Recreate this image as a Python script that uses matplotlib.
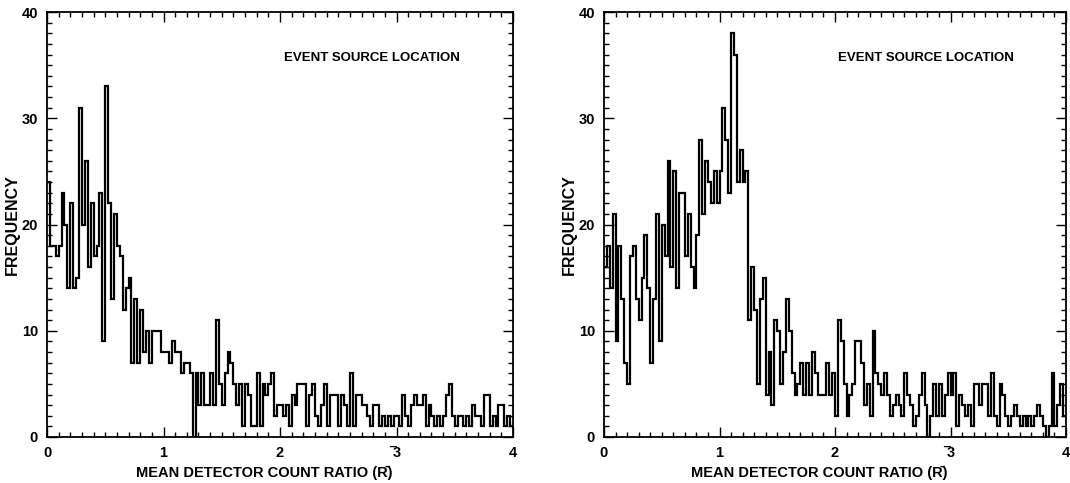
import numpy as np
import matplotlib
matplotlib.use('Agg')
import matplotlib.pyplot as plt
from matplotlib.ticker import MultipleLocator

plt.rcParams['font.family'] = ['Liberation Sans Narrow', 'Liberation Sans', 'DejaVu Sans']
plt.rcParams['font.weight'] = 'bold'

# histogram bin width in units of mean detector count ratio
bin_width = 0.025

# counts per bin, 0 <= R < 4 (160 bins each)
counts_left = [
    24, 18, 18, 17, 18, 23, 20, 14, 22, 14, 15, 31, 20, 26, 16, 22, 17, 18, 23, 9,
    33, 22, 13, 21, 18, 17, 12, 14, 15, 7, 13, 7, 12, 8, 10, 7, 10, 10, 10, 8,
    8, 8, 7, 9, 8, 8, 6, 7, 7, 6, 0, 6, 3, 6, 3, 3, 6, 3, 11, 5,
    3, 6, 8, 7, 5, 3, 5, 1, 5, 4, 1, 1, 6, 1, 5, 4, 5, 6, 2, 3,
    3, 2, 3, 1, 4, 3, 5, 5, 5, 1, 4, 5, 2, 1, 3, 5, 1, 4, 4, 4,
    1, 4, 3, 1, 6, 1, 4, 4, 3, 3, 2, 1, 3, 3, 1, 2, 1, 2, 1, 2,
    2, 1, 4, 2, 1, 3, 4, 3, 3, 4, 1, 3, 2, 1, 2, 1, 2, 4, 5, 2,
    1, 2, 2, 1, 2, 1, 3, 2, 2, 1, 4, 4, 1, 2, 1, 3, 3, 1, 2, 1,
]
counts_right = [
    16, 18, 14, 21, 9, 18, 13, 7, 5, 17, 18, 13, 11, 15, 19, 14, 7, 13, 21, 9,
    20, 17, 26, 16, 25, 14, 23, 23, 17, 21, 16, 14, 19, 28, 21, 26, 24, 22, 25, 22,
    25, 31, 28, 23, 38, 36, 24, 27, 24, 25, 11, 16, 12, 5, 13, 15, 4, 8, 3, 11,
    10, 5, 8, 13, 10, 6, 4, 5, 7, 4, 7, 4, 8, 6, 4, 4, 4, 7, 4, 6,
    2, 11, 9, 5, 2, 4, 5, 9, 9, 7, 3, 5, 2, 10, 6, 5, 4, 6, 4, 2,
    3, 4, 3, 2, 6, 4, 3, 1, 2, 4, 6, 3, 0, 2, 5, 2, 5, 2, 4, 6,
    4, 6, 1, 4, 3, 2, 3, 1, 5, 5, 3, 5, 5, 2, 6, 2, 1, 5, 4, 2,
    1, 2, 3, 2, 1, 2, 1, 2, 1, 2, 3, 2, 1, 0, 1, 6, 1, 3, 5, 2,
]

x_ticks = [0, 1, 2, 3, 4]
y_ticks = [0, 10, 20, 30, 40]
panel_text = 'EVENT SOURCE LOCATION'
x_title = 'MEAN DETECTOR COUNT RATIO (R\u0304)'
y_title = 'FREQUENCY'

W, H = 1070, 483
fig = plt.figure(figsize=(W / 100, H / 100), dpi=100)
ax1 = fig.add_axes([47 / W, 1 - 437 / H, (513 - 47) / W, (437 - 12) / H])
ax2 = fig.add_axes([604 / W, 1 - 437 / H, (1066 - 604) / W, (437 - 12) / H])

for ax, counts in [(ax1, counts_left), (ax2, counts_right)]:
    edges = np.arange(len(counts) + 1) * bin_width
    ax.stairs(counts, edges, baseline=None, color='black', lw=1.6)

    ax.set_xlim(0, 4)
    ax.set_ylim(0, 40)
    ax.set_xticks(x_ticks)
    ax.set_yticks(y_ticks)
    ax.set_xticklabels([str(t) for t in x_ticks])
    ax.set_yticklabels([str(t) for t in y_ticks])
    ax.xaxis.set_minor_locator(MultipleLocator(0.1))
    ax.yaxis.set_minor_locator(MultipleLocator(1))
    ax.tick_params(which='both', direction='in', top=True, right=True,
                   labelsize=10.5, width=1.0)
    ax.tick_params(which='major', length=7, pad=6.5)
    ax.tick_params(which='minor', length=3.5)
    for s in ax.spines.values():
        s.set_linewidth(1.3)

    ax.set_xlabel(x_title, fontsize=10.5, fontweight='bold', labelpad=1)
    ax.xaxis.set_label_coords(0.466, -0.068)
    ax.set_ylabel(y_title, fontsize=11.5, fontweight='bold', labelpad=1)
    ax.text(2.79, 35.7, panel_text, fontsize=9.5, fontweight='bold',
            ha='center', va='center')
    # stray overbar sitting above the "3" tick label
    ax.annotate('_', xy=(3, 0), xycoords=('data', 'axes fraction'),
                xytext=(-3, -7.5), textcoords='offset points',
                ha='center', va='bottom', fontsize=9, fontweight='bold')

fig.savefig('out.png', dpi=100)
